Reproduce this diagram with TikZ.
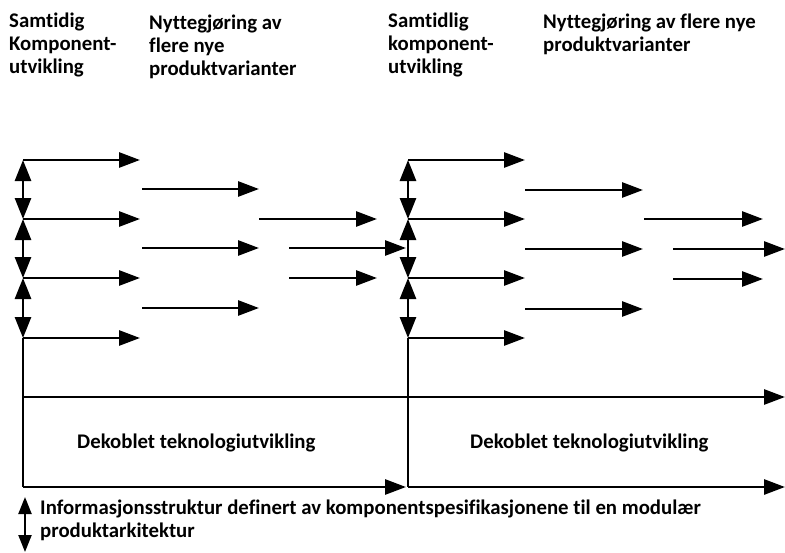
\documentclass[tikz,border=0pt]{standalone}
\usepackage{fontspec}
\setmainfont{Carlito}[Ligatures=NoCommon]
\usetikzlibrary{arrows.meta}
\tikzset{
  line/.style={line width=2.8pt, draw=black},
  arr/.style={line, -{Triangle[length=21pt,width=15pt]}},
  darr/.style={line, {Triangle[length=21pt,width=16pt]}-{Triangle[length=21pt,width=16pt]}},
  lbl/.style={anchor=base west, inner sep=0pt, font=\fontsize{20.8}{23}\selectfont\bfseries},
  toplbl/.style={lbl},
}
\begin{document}
\begin{tikzpicture}[x=1pt,y=-1pt]
\useasboundingbox (0,0) rectangle (785,552);
% top labels
\node[toplbl] (a1) at (9,27) {Samtidig};
\node[toplbl] (a2) at (9,50) {Komponent-};
\node[toplbl] (a3) at (9,73) {utvikling};
\node[toplbl] (b1) at (149,29) {Nyttegjøring av};
\node[toplbl] (b2) at (149,52) {flere nye};
\node[toplbl] (b3) at (149,75) {produktvarianter};
\node[toplbl] (c1) at (388,27) {Samtidlig};
\node[toplbl] (c2) at (388,50) {komponent-};
\node[toplbl] (c3) at (388,73) {utvikling};
\node[toplbl] (d1) at (543,28) {Nyttegjøring av flere nye};
\node[toplbl] (d2) at (543,51) {produktvarianter};
% spines
\foreach \s/\x in {L/23, R/408} {
  \coordinate (\s0) at (\x,160);
  \coordinate (\s1) at (\x,219);
  \coordinate (\s2) at (\x,278);
  \coordinate (\s3) at (\x,338);
  \coordinate (\s4) at (\x,397);
  \coordinate (\s5) at (\x,487);
}
\draw[darr] (L0) -- (L1);
\draw[darr] (L1) -- (L2);
\draw[darr] (L2) -- (L3);
\draw[line] (L3) -- (L5);
\draw[darr] (R0) -- (R1);
\draw[darr] (R1) -- (R2);
\draw[darr] (R2) -- (R3);
\draw[line] (R3) -- (R5);
% first block arrows
\coordinate (e0) at (140,160);
\coordinate (e1) at (140,219);
\coordinate (e2) at (140,278);
\coordinate (e3) at (140,338);
\draw[arr] (L0) -- (e0);
\draw[arr] (L1) -- (e1);
\draw[arr] (L2) -- (e2);
\draw[arr] (L3) -- (e3);
\coordinate (f0s) at (142,189); \coordinate (f0e) at (259,189);
\coordinate (f1s) at (142,248); \coordinate (f1e) at (259,248);
\coordinate (f2s) at (142,308); \coordinate (f2e) at (259,308);
\draw[arr] (f0s) -- (f0e);
\draw[arr] (f1s) -- (f1e);
\draw[arr] (f2s) -- (f2e);
\coordinate (g0s) at (259,219); \coordinate (g0e) at (377,219);
\coordinate (g1s) at (289,248); \coordinate (g1e) at (406,248);
\coordinate (g2s) at (289,278); \coordinate (g2e) at (377,278);
\draw[arr] (g0s) -- (g0e);
\draw[arr] (g1s) -- (g1e);
\draw[arr] (g2s) -- (g2e);
% second block arrows
\coordinate (h0) at (525,160);
\coordinate (h1) at (525,219);
\coordinate (h2) at (525,278);
\coordinate (h3) at (525,338);
\draw[arr] (R0) -- (h0);
\draw[arr] (R1) -- (h1);
\draw[arr] (R2) -- (h2);
\draw[arr] (R3) -- (h3);
\coordinate (i0s) at (525,190); \coordinate (i0e) at (643,190);
\coordinate (i1s) at (525,249); \coordinate (i1e) at (643,249);
\coordinate (i2s) at (525,309); \coordinate (i2e) at (643,309);
\draw[arr] (i0s) -- (i0e);
\draw[arr] (i1s) -- (i1e);
\draw[arr] (i2s) -- (i2e);
\coordinate (j0s) at (644,219); \coordinate (j0e) at (763,219);
\coordinate (j1s) at (673,249); \coordinate (j1e) at (785,249);
\coordinate (j2s) at (673,279); \coordinate (j2e) at (763,279);
\draw[arr] (j0s) -- (j0e);
\draw[arr] (j1s) -- (j1e);
\draw[arr] (j2s) -- (j2e);
% bottom lines
\coordinate (mEnd) at (785,397);
\coordinate (bEnd) at (785,487);
\coordinate (bMid) at (406,487);
\draw[arr] (L4) -- (mEnd);
\draw[arr] (L5) -- (bMid);
\draw[arr] (R5) -- (bEnd);
\node[lbl] (k1) at (77,448) {Dekoblet teknologiutvikling};
\node[lbl] (k2) at (470,448) {Dekoblet teknologiutvikling};
% legend
\coordinate (lg0) at (25,497);
\coordinate (lg1) at (25,552);
\draw[line, line width=2.2pt, {Triangle[length=17pt,width=13pt]}-{Triangle[length=17pt,width=13pt]}] (lg0) -- (lg1);
\node[lbl] (m1) at (40,514) {Informasjonsstruktur definert av komponentspesifikasjonene til en modulær};
\node[lbl] (m2) at (40,537) {produktarkitektur};
\end{tikzpicture}
\end{document}
